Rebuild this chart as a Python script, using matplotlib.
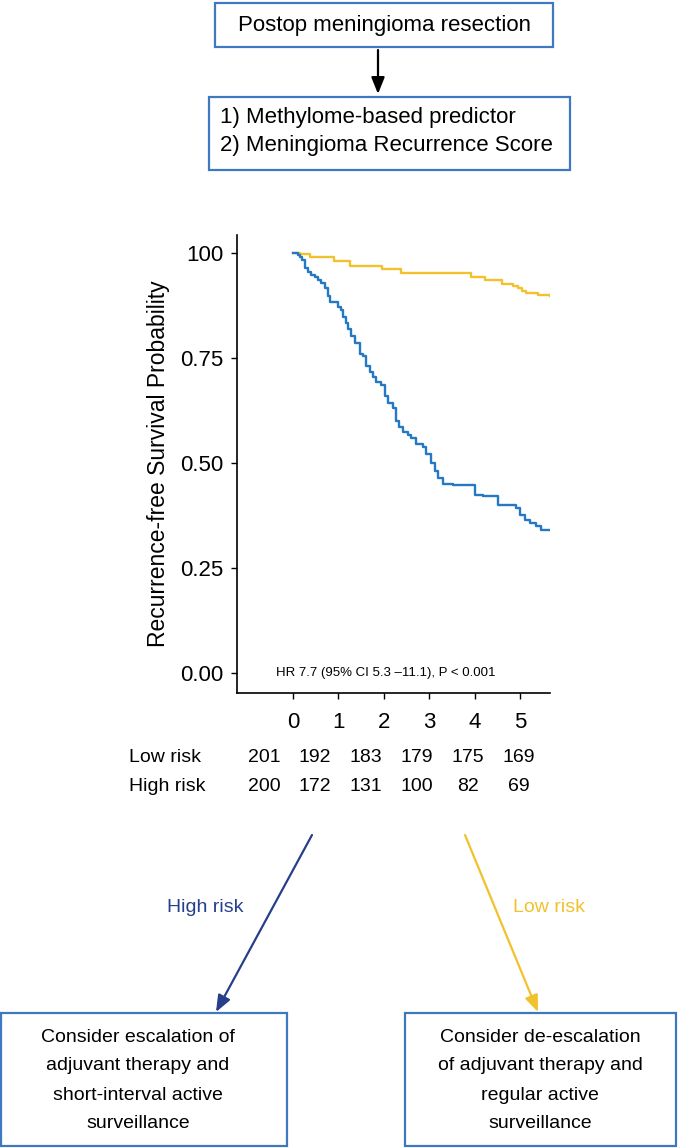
import matplotlib
matplotlib.use("Agg")
import matplotlib.pyplot as plt
from matplotlib.patches import Rectangle, FancyArrowPatch

plt.rcParams['font.family'] = ['Liberation Sans', 'DejaVu Sans']

# ---------------- data ----------------
high_t = [0, 0.11, 0.15, 0.21, 0.26, 0.33, 0.40, 0.48, 0.55, 0.62, 0.70, 0.77, 0.81, 0.99, 1.07,
          1.10, 1.18, 1.21, 1.29, 1.36, 1.48, 1.54, 1.62, 1.69, 1.76, 1.84, 1.95, 2.02, 2.09, 2.20,
          2.28, 2.33, 2.42, 2.53, 2.61, 2.72, 2.86, 2.94, 3.05, 3.12, 3.19, 3.30, 3.52, 4.00, 4.18,
          4.52, 4.77, 4.92, 5.00, 5.10, 5.21, 5.36, 5.47, 5.65]
high_s = [1.0, 0.996, 0.990, 0.984, 0.964, 0.956, 0.948, 0.943, 0.937, 0.929, 0.917, 0.897, 0.883,
          0.871, 0.865, 0.848, 0.833, 0.819, 0.802, 0.787, 0.760, 0.754, 0.730, 0.716, 0.706, 0.694,
          0.685, 0.659, 0.643, 0.631, 0.599, 0.586, 0.575, 0.567, 0.560, 0.546, 0.538, 0.522, 0.500,
          0.480, 0.464, 0.451, 0.447, 0.425, 0.421, 0.401, 0.399, 0.392, 0.377, 0.365, 0.357, 0.349,
          0.340, 0.340]
low_t = [0, 0.15, 0.37, 0.90, 1.26, 1.97, 2.39, 3.93, 4.22, 4.61, 4.85, 4.96, 5.05, 5.14, 5.40, 5.65]
low_s = [1.0, 0.997, 0.990, 0.980, 0.968, 0.962, 0.952, 0.944, 0.935, 0.927, 0.922, 0.917, 0.910,
         0.905, 0.900, 0.897]

x_ticks = [0, 1, 2, 3, 4, 5]
y_ticks = [0.0, 0.25, 0.50, 0.75, 1.0]
y_ticklabels = ["0.00", "0.25", "0.50", "0.75", "100"]
risk_groups = ["Low risk", "High risk"]
risk_low = [201, 192, 183, 179, 175, 169]
risk_high = [200, 172, 131, 100, 82, 69]

YELLOW = "#F2C12E"
BLUE = "#2478C4"
NAVY = "#263F8A"
BOXEDGE = "#3D78C0"

W, H = 678, 1148
fig = plt.figure(figsize=(W / 100, H / 100), dpi=100)

# ---------------- KM axes ----------------
ax = fig.add_axes([237 / W, 1 - 693 / H, (550 - 237) / W, (693 - 235) / H])
ax.step(low_t, low_s, where="post", color=YELLOW, lw=1.7)
ax.step(high_t, high_s, where="post", color=BLUE, lw=1.7)
ax.set_xlim(-1.23, 5.66)
ax.set_ylim(-0.0476, 1.043)
ax.set_xticks(x_ticks)
ax.set_yticks(y_ticks)
ax.set_yticklabels(y_ticklabels)
for s in ["top", "right"]:
    ax.spines[s].set_visible(False)
for s in ["left", "bottom"]:
    ax.spines[s].set_linewidth(1.2)
ax.tick_params(axis="both", labelsize=16, length=4, width=1.0, direction="out")
ax.tick_params(axis="x", pad=10)
ax.tick_params(axis="y", pad=6)
ax.set_ylabel("Recurrence-free Survival Probability", fontsize=16.5, labelpad=7)
ax.text(2.05, 0.0, "HR 7.7 (95% CI 5.3 \u201311.1), P < 0.001", fontsize=9.5,
        ha="center", va="center")

# ---------------- risk table ----------------
rax = fig.add_axes([(264 - 0.5 * 51) / W, 1 - 800 / H, 6 * 51 / W, 60 / H])
rax.set_xlim(-0.5, 5.5)
rax.set_ylim(0, 1)
rax.axis("off")
rows = [risk_low, risk_high]
row_y = [0.7, 0.22]
for name, vals, yy in zip(risk_groups, rows, row_y):
    rax.text(-2.65, yy, name, fontsize=14, ha="left", va="center")
    for i, v in enumerate(vals):
        rax.text(i, yy, str(v), fontsize=14, ha="center", va="center")

# ---------------- flowchart overlay ----------------
ov = fig.add_axes([0, 0, 1, 1], zorder=-1)
ov.set_xlim(0, W)
ov.set_ylim(H, 0)
ov.axis("off")

def box(x0, y0, x1, y1):
    ov.add_patch(Rectangle((x0, y0), x1 - x0, y1 - y0, fill=False,
                           edgecolor=BOXEDGE, lw=1.6))

def arrow(p0, p1, color):
    ov.add_patch(FancyArrowPatch(p0, p1, arrowstyle="-|>,head_length=10,head_width=4",
                                 color=color, lw=1.6, mutation_scale=1,
                                 shrinkA=0, shrinkB=0))

box(215, 3, 553, 47)
ov.text(384, 25, "Postop meningioma resection", fontsize=16, ha="center", va="center")
arrow((378, 50), (378, 94), "black")
box(209, 97, 570, 170)
ov.text(220, 118, "1) Methylome-based predictor", fontsize=16, ha="left", va="center")
ov.text(220, 146, "2) Meningioma Recurrence Score", fontsize=16, ha="left", va="center")

arrow((312, 835), (216, 1012), NAVY)
arrow((465, 835), (538, 1012), YELLOW)
ov.text(205, 907, "High risk", fontsize=14, color=NAVY, ha="center", va="center")
ov.text(549, 907, "Low risk", fontsize=14, color=YELLOW, ha="center", va="center")

box(1, 1013, 287, 1146)
box(405, 1013, 676, 1146)
left_lines = ["Consider escalation of", "adjuvant therapy and", "short-interval active", "surveillance"]
right_lines = ["Consider de-escalation", "of adjuvant therapy and", "regular active", "surveillance"]
for k, (a, b) in enumerate(zip(left_lines, right_lines)):
    yy = 1037 + k * 29
    ov.text(138, yy, a, fontsize=14, ha="center", va="center")
    ov.text(540, yy, b, fontsize=14, ha="center", va="center")

fig.savefig("out.png", dpi=100)
